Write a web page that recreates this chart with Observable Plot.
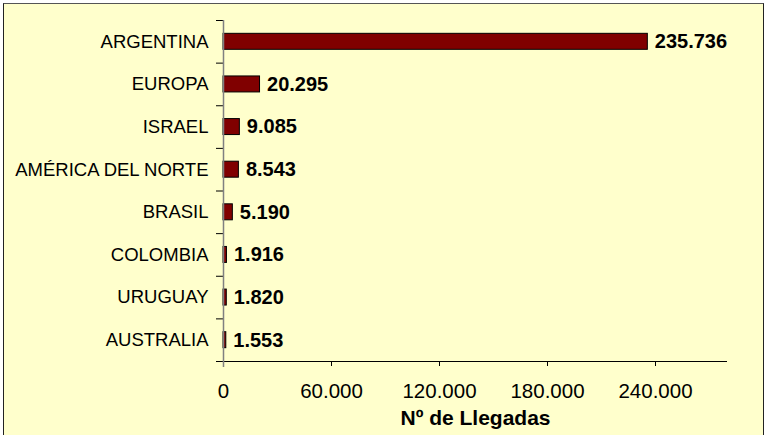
<!DOCTYPE html>
<html>
<head>
<meta charset="utf-8">
<script src="https://cdn.jsdelivr.net/npm/d3@7"></script>
<script src="https://cdn.jsdelivr.net/npm/@observablehq/plot@0.6"></script>
<style>
  html, body { margin: 0; padding: 0; background: #ffffff; width: 771px; height: 435px; overflow: hidden; }
  #bg { position: absolute; left: 3px; top: 3px; width: 759px; height: 450px; background: #FFFFCC;
        border-left: 1.5px solid #222; border-top: 1px solid #555; border-right: 1px solid #222; }
  #chart { position: absolute; left: 0; top: 0; }
</style>
</head>
<body>
<div id="bg"></div>
<div id="chart"></div>
<script>
const categories = ["ARGENTINA", "EUROPA", "ISRAEL", "AMÉRICA DEL NORTE", "BRASIL", "COLOMBIA", "URUGUAY", "AUSTRALIA"];
const values = [235736, 20295, 9085, 8543, 5190, 1916, 1820, 1553];
const xTicks = [0, 60000, 120000, 180000, 240000];
const xDomain = [0, 280000];
const xLabel = "Nº de Llegadas";

const data = categories.map((name, i) => ({name, value: values[i]}));
const fmt = v => d3.format(",")(v).replace(/,/g, ".");
const halfStep = (361 - 20) / categories.length / 2;

const plot = Plot.plot({
  width: 771,
  height: 435,
  marginLeft: 223,
  marginRight: 44,
  marginTop: 20,
  marginBottom: 74,
  style: {background: "transparent", fontFamily: "'Liberation Sans', Arial, sans-serif", color: "#000"},
  x: {domain: xDomain},
  y: {domain: categories, type: "band", paddingInner: 0.625, paddingOuter: 0.3125, round: false},
  marks: [
    Plot.axisY({tickSize: 0, tickPadding: 15, fontSize: 18.5, label: null}),
    Plot.axisX({ticks: xTicks, tickFormat: fmt, tickSize: 5, tickPadding: 17, fontSize: 20.5, label: null, stroke: "#000"}),
    Plot.barX(data, {x: "value", y: "name", fill: "#800000", stroke: "#000", strokeWidth: 1}),
    Plot.ruleY(categories, {y: d => d, x1: 0, x2: 0, insetLeft: -7, dy: -halfStep, stroke: "#000"}),
    Plot.ruleY([categories[categories.length - 1]], {y: d => d, x1: xDomain[0], x2: xDomain[1], insetLeft: -7, dy: halfStep, stroke: "#000"}),
    Plot.ruleX([0], {stroke: "#808080", strokeWidth: 1.5, insetBottom: -6}),
    Plot.text(data, {x: "value", y: "name", text: d => fmt(d.value), textAnchor: "start", dx: 7, fontWeight: "bold", fontSize: 20, fill: "#000"}),
    Plot.text([xLabel], {frameAnchor: "bottom", lineAnchor: "middle", dy: 56.5, fontWeight: "bold", fontSize: 21, fill: "#000"})
  ]
});
document.getElementById("chart").appendChild(plot);
</script>
</body>
</html>
